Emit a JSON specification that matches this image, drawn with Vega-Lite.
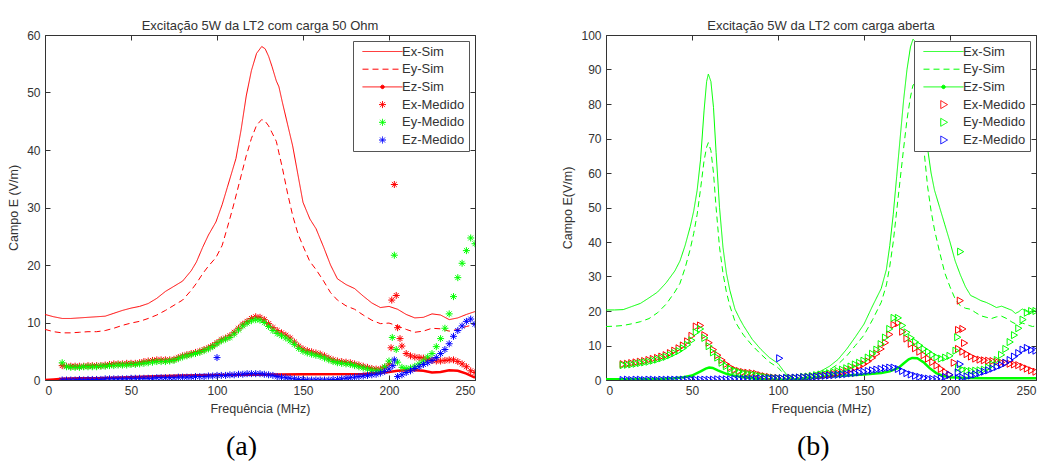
{
  "$schema": "https://vega.github.io/schema/vega-lite/v6.json",
  "padding": {"left": 7, "top": 20, "right": 5, "bottom": 0},
  "background": "white",
  "config": {
    "font": "Liberation Sans",
    "view": {"stroke": null},
    "axis": {
      "labelFont": "Liberation Sans", "labelFontSize": 12, "labelColor": "#333",
      "titleFont": "Liberation Sans", "titleFontSize": 12.5, "titleFontWeight": "normal", "titleColor": "#333",
      "domainColor": "#333", "tickColor": "#333", "tickSize": -5, "labelPadding": 10, "grid": false, "titlePadding": 6
    },
    "title": {"font": "Liberation Sans", "fontSize": 13, "fontWeight": "normal", "color": "#333", "offset": -4}
  },
  "spacing": 85,
  "resolve": {
    "scale": {"x": "independent", "y": "independent", "color": "independent", "strokeDash": "independent"},
    "legend": {"color": "independent"}
  },
  "hconcat": [
    {
      "title": {"text": "(a)", "orient": "bottom", "font": "Liberation Serif", "fontSize": 28, "color": "#000", "offset": 18, "anchor": "middle"},
      "resolve": {"scale": {"color": "independent", "strokeDash": "independent"}, "legend": {"color": "independent"}},
      "vconcat": [
        {
          "title": {"text": "Excitação 5W da LT2 com carga 50 Ohm", "anchor": "middle"},
          "width": 430, "height": 345,
          "resolve": {"axis": {"x": "independent", "y": "independent"}},
          "layer": [
            {
              "data": {"values": [
                {"f":0,"Ex-Sim":11.4,"Ey-Sim":8.8},{"f":5,"Ex-Sim":11.0,"Ey-Sim":8.4},{"f":10,"Ex-Sim":10.7,"Ey-Sim":8.2},{"f":15,"Ex-Sim":10.7,"Ey-Sim":8.2},{"f":20,"Ex-Sim":10.8,"Ey-Sim":8.3},{"f":25,"Ex-Sim":10.9,"Ey-Sim":8.4},{"f":30,"Ex-Sim":11.0,"Ey-Sim":8.4},{"f":35,"Ex-Sim":11.1,"Ey-Sim":8.6},{"f":40,"Ex-Sim":11.6,"Ey-Sim":9.0},{"f":45,"Ex-Sim":12.1,"Ey-Sim":9.5},{"f":50,"Ex-Sim":12.5,"Ey-Sim":9.9},{"f":55,"Ex-Sim":12.8,"Ey-Sim":10.2},{"f":60,"Ex-Sim":13.3,"Ey-Sim":10.7},{"f":65,"Ex-Sim":14.2,"Ey-Sim":11.3},{"f":70,"Ex-Sim":15.4,"Ey-Sim":12.1},{"f":75,"Ex-Sim":16.3,"Ey-Sim":13.0},{"f":80,"Ex-Sim":17.2,"Ey-Sim":13.9},{"f":85,"Ex-Sim":19.0,"Ey-Sim":15.6},{"f":88,"Ex-Sim":20.5,"Ey-Sim":16.8},{"f":91.7,"Ex-Sim":23.1,"Ey-Sim":18.5},{"f":95,"Ex-Sim":25.2,"Ey-Sim":19.8},{"f":99.4,"Ex-Sim":27.5,"Ey-Sim":21.3},{"f":103,"Ex-Sim":30.5,"Ey-Sim":23.4},{"f":106,"Ex-Sim":33.5,"Ey-Sim":26.5},{"f":109,"Ex-Sim":36.5,"Ey-Sim":29.7},{"f":111,"Ex-Sim":38.5,"Ey-Sim":32.0},{"f":114,"Ex-Sim":43.5,"Ey-Sim":35.5},{"f":117,"Ex-Sim":49.4,"Ey-Sim":39.0},{"f":120,"Ex-Sim":53.8,"Ey-Sim":42.0},{"f":123,"Ex-Sim":56.8,"Ey-Sim":44.3},{"f":126,"Ex-Sim":58.0,"Ey-Sim":45.3},{"f":128,"Ex-Sim":57.6,"Ey-Sim":45.0},{"f":130,"Ex-Sim":56.3,"Ey-Sim":44.2},{"f":132,"Ex-Sim":54.5,"Ey-Sim":43.0},{"f":134.5,"Ex-Sim":52.0,"Ey-Sim":41.5},{"f":136,"Ex-Sim":51.0,"Ey-Sim":39.5},{"f":138,"Ex-Sim":48.3,"Ey-Sim":36.9},{"f":141,"Ex-Sim":44.5,"Ey-Sim":32.5},{"f":144,"Ex-Sim":40.7,"Ey-Sim":28.6},{"f":147,"Ex-Sim":35.8,"Ey-Sim":25.5},{"f":150,"Ex-Sim":30.9,"Ey-Sim":23.3},{"f":154,"Ex-Sim":28.0,"Ey-Sim":20.6},{"f":157.6,"Ex-Sim":26.3,"Ey-Sim":19.2},{"f":162,"Ex-Sim":23.1,"Ey-Sim":17.2},{"f":166,"Ex-Sim":20.0,"Ey-Sim":15.2},{"f":170,"Ex-Sim":17.6,"Ey-Sim":13.9},{"f":175,"Ex-Sim":16.6,"Ey-Sim":12.9},{"f":180,"Ex-Sim":15.9,"Ey-Sim":12.3},{"f":185,"Ex-Sim":14.6,"Ey-Sim":11.3},{"f":190,"Ex-Sim":13.4,"Ey-Sim":10.4},{"f":195,"Ex-Sim":12.6,"Ey-Sim":9.8},{"f":200,"Ex-Sim":12.8,"Ey-Sim":9.9},{"f":205,"Ex-Sim":12.3,"Ey-Sim":9.4},{"f":210,"Ex-Sim":11.4,"Ey-Sim":8.8},{"f":215,"Ex-Sim":10.8,"Ey-Sim":8.3},{"f":220,"Ex-Sim":10.9,"Ey-Sim":8.5},{"f":225,"Ex-Sim":11.5,"Ey-Sim":9.0},{"f":230,"Ex-Sim":11.3,"Ey-Sim":8.9},{"f":235,"Ex-Sim":10.5,"Ey-Sim":8.5},{"f":240,"Ex-Sim":10.8,"Ey-Sim":8.8},{"f":245,"Ex-Sim":11.4,"Ey-Sim":9.3},{"f":250,"Ex-Sim":11.9,"Ey-Sim":9.7}
              ]},
              "transform": [{"fold": ["Ex-Sim", "Ey-Sim"], "as": ["s", "v"]}],
              "mark": {"type": "line", "strokeWidth": 1, "clip": true},
              "encoding": {
                "x": {"field": "f", "type": "quantitative", "scale": {"domain": [0, 250], "nice": false}, "axis": {"title": "Frequência (MHz)", "values": [0, 50, 100, 150, 200, 250]}},
                "y": {"field": "v", "type": "quantitative", "scale": {"domain": [0, 60], "nice": false}, "axis": {"title": "Campo E (V/m)", "values": [0, 10, 20, 30, 40, 50, 60]}},
                "color": {
                  "field": "s", "type": "nominal",
                  "scale": {"domain": ["Ex-Sim", "Ey-Sim", "Ez-Sim", "Ex-Medido", "Ey-Medido", "Ez-Medido"], "range": ["#ff0000", "#ff0000", "#ff0000", "#ff0000", "#00ff00", "#0000ff"]},
                  "legend": {
                    "title": null, "orient": "top-right", "offset": 6, "fillColor": "#ffffff", "strokeColor": "#555555", "padding": 4,
                    "labelFont": "Liberation Sans", "labelFontSize": 13, "labelColor": "#333", "symbolSize": 100, "symbolOffset": 19, "labelOffset": 13, "rowPadding": 3.7,
                    "encode": {"symbols": {"update": {
                      "shape": {"signal": "datum.value === 'Ex-Sim' || datum.value === 'Ey-Sim' ? 'M-4,0L4,0' : datum.value === 'Ez-Sim' ? 'M-4,0L4,0M-0.35,0A0.35,0.35 0 1,1 0.35,0A0.35,0.35 0 1,1 -0.35,0' : 'M-0.7,0L0.7,0M0,-0.7L0,0.7M-0.5,-0.5L0.5,0.5M-0.5,0.5L0.5,-0.5'"},
                      "stroke": {"signal": "datum.value === 'Ey-Medido' ? '#00ff00' : datum.value === 'Ez-Medido' ? '#0000ff' : '#ff0000'"},
                      "fill": {"signal": "datum.value === 'Ez-Sim' ? '#ff0000' : 'transparent'"},
                      "strokeDash": {"signal": "datum.value === 'Ey-Sim' ? [6, 4] : [1, 0]"},
                      "strokeWidth": {"value": 1},
                      "size": {"value": 100},
                      "opacity": {"value": 1}
                    }}}
                  }
                },
                "strokeDash": {"field": "s", "type": "nominal", "scale": {"domain": ["Ex-Sim", "Ey-Sim"], "range": [[1, 0], [6, 4]]}, "legend": null}
              }
            },
            {
              "data": {"values": [
                {"f":0,"Ez-Sim":0.0},{"f":5,"Ez-Sim":0.1},{"f":10,"Ez-Sim":0.2},{"f":20,"Ez-Sim":0.3},{"f":30,"Ez-Sim":0.3},{"f":40,"Ez-Sim":0.4},{"f":50,"Ez-Sim":0.5},{"f":60,"Ez-Sim":0.6},{"f":70,"Ez-Sim":0.7},{"f":80,"Ez-Sim":0.8},{"f":100,"Ez-Sim":0.85},{"f":120,"Ez-Sim":0.9},{"f":150,"Ez-Sim":1.0},{"f":185,"Ez-Sim":1.05},{"f":195,"Ez-Sim":1.25},{"f":200,"Ez-Sim":1.4},{"f":205,"Ez-Sim":1.6},{"f":210,"Ez-Sim":1.7},{"f":215,"Ez-Sim":1.7},{"f":220,"Ez-Sim":1.6},{"f":225,"Ez-Sim":1.3},{"f":230,"Ez-Sim":1.4},{"f":235,"Ez-Sim":1.7},{"f":240,"Ez-Sim":1.6},{"f":245,"Ez-Sim":1.1},{"f":250,"Ez-Sim":0.4}
              ]},
              "transform": [{"fold": ["Ez-Sim"], "as": ["s", "v"]}],
              "mark": {"type": "line", "strokeWidth": 2.5, "clip": true},
              "encoding": {
                "x": {"field": "f", "type": "quantitative", "axis": null},
                "y": {"field": "v", "type": "quantitative", "axis": null},
                "color": {"field": "s", "type": "nominal"}
              }
            },
            {
              "data": {"values": [
                {"f":10,"Ex-Medido":2.5,"Ey-Medido":3.0,"Ez-Medido":0.0},{"f":12.5,"Ex-Medido":2.4,"Ey-Medido":2.3,"Ez-Medido":0.0},{"f":15,"Ex-Medido":2.4,"Ey-Medido":2.2,"Ez-Medido":0.0},{"f":17.5,"Ex-Medido":2.4,"Ey-Medido":2.2,"Ez-Medido":0.0},{"f":20,"Ex-Medido":2.4,"Ey-Medido":2.2,"Ez-Medido":0.1},{"f":22.5,"Ex-Medido":2.4,"Ey-Medido":2.3,"Ez-Medido":0.0},{"f":25,"Ex-Medido":2.5,"Ey-Medido":2.3,"Ez-Medido":0.1},{"f":27.5,"Ex-Medido":2.5,"Ey-Medido":2.3,"Ez-Medido":0.1},{"f":30,"Ex-Medido":2.5,"Ey-Medido":2.3,"Ez-Medido":0.1},{"f":32.5,"Ex-Medido":2.5,"Ey-Medido":2.4,"Ez-Medido":0.1},{"f":35,"Ex-Medido":2.6,"Ey-Medido":2.4,"Ez-Medido":0.2},{"f":37.5,"Ex-Medido":2.7,"Ey-Medido":2.5,"Ez-Medido":0.2},{"f":40,"Ex-Medido":2.8,"Ey-Medido":2.5,"Ez-Medido":0.2},{"f":42.5,"Ex-Medido":2.8,"Ey-Medido":2.6,"Ez-Medido":0.2},{"f":45,"Ex-Medido":2.8,"Ey-Medido":2.6,"Ez-Medido":0.2},{"f":47.5,"Ex-Medido":2.9,"Ey-Medido":2.6,"Ez-Medido":0.2},{"f":50,"Ex-Medido":2.9,"Ey-Medido":2.7,"Ez-Medido":0.3},{"f":52.5,"Ex-Medido":2.9,"Ey-Medido":2.7,"Ez-Medido":0.3},{"f":55,"Ex-Medido":3.0,"Ey-Medido":2.8,"Ez-Medido":0.3},{"f":57.5,"Ex-Medido":3.2,"Ey-Medido":2.9,"Ez-Medido":0.3},{"f":60,"Ex-Medido":3.3,"Ey-Medido":3.0,"Ez-Medido":0.3},{"f":62.5,"Ex-Medido":3.4,"Ey-Medido":3.1,"Ez-Medido":0.3},{"f":65,"Ex-Medido":3.5,"Ey-Medido":3.2,"Ez-Medido":0.4},{"f":67.5,"Ex-Medido":3.5,"Ey-Medido":3.2,"Ez-Medido":0.4},{"f":70,"Ex-Medido":3.5,"Ey-Medido":3.2,"Ez-Medido":0.4},{"f":72.5,"Ex-Medido":3.5,"Ey-Medido":3.3,"Ez-Medido":0.4},{"f":75,"Ex-Medido":3.6,"Ey-Medido":3.4,"Ez-Medido":0.4},{"f":77.5,"Ex-Medido":3.9,"Ey-Medido":3.7,"Ez-Medido":0.5},{"f":80,"Ex-Medido":4.2,"Ey-Medido":4.0,"Ez-Medido":0.5},{"f":82.5,"Ex-Medido":4.4,"Ey-Medido":4.2,"Ez-Medido":0.5},{"f":85,"Ex-Medido":4.6,"Ey-Medido":4.4,"Ez-Medido":0.5},{"f":87.5,"Ex-Medido":4.8,"Ey-Medido":4.6,"Ez-Medido":0.6},{"f":90,"Ex-Medido":5.0,"Ey-Medido":4.8,"Ez-Medido":0.6},{"f":92.5,"Ex-Medido":5.3,"Ey-Medido":5.1,"Ez-Medido":0.6},{"f":95,"Ex-Medido":5.6,"Ey-Medido":5.4,"Ez-Medido":0.7},{"f":97.5,"Ex-Medido":6.0,"Ey-Medido":5.8,"Ez-Medido":0.7},{"f":100,"Ex-Medido":6.5,"Ey-Medido":6.3,"Ez-Medido":0.8},{"f":102.5,"Ex-Medido":7.0,"Ey-Medido":6.8,"Ez-Medido":0.8},{"f":105,"Ex-Medido":7.3,"Ey-Medido":7.1,"Ez-Medido":0.8},{"f":107.5,"Ex-Medido":7.7,"Ey-Medido":7.4,"Ez-Medido":0.9},{"f":110,"Ex-Medido":8.3,"Ey-Medido":8.0,"Ez-Medido":0.9},{"f":112.5,"Ex-Medido":9.0,"Ey-Medido":8.7,"Ez-Medido":1.0},{"f":115,"Ex-Medido":9.7,"Ey-Medido":9.4,"Ez-Medido":1.0},{"f":117.5,"Ex-Medido":10.2,"Ey-Medido":9.9,"Ez-Medido":1.1},{"f":120,"Ex-Medido":10.7,"Ey-Medido":10.3,"Ez-Medido":1.1},{"f":122.5,"Ex-Medido":11.0,"Ey-Medido":10.5,"Ez-Medido":1.1},{"f":125,"Ex-Medido":10.9,"Ey-Medido":10.4,"Ez-Medido":1.1},{"f":127.5,"Ex-Medido":10.5,"Ey-Medido":10.0,"Ez-Medido":1.0},{"f":130,"Ex-Medido":9.8,"Ey-Medido":9.3,"Ez-Medido":0.9},{"f":132.5,"Ex-Medido":9.1,"Ey-Medido":8.6,"Ez-Medido":0.8},{"f":135,"Ex-Medido":8.6,"Ey-Medido":8.1,"Ez-Medido":0.6},{"f":137.5,"Ex-Medido":8.2,"Ey-Medido":7.7,"Ez-Medido":0.5},{"f":140,"Ex-Medido":7.8,"Ey-Medido":7.3,"Ez-Medido":0.4},{"f":142.5,"Ex-Medido":7.3,"Ey-Medido":6.8,"Ez-Medido":0.3},{"f":145,"Ex-Medido":6.6,"Ey-Medido":6.2,"Ez-Medido":0.2},{"f":147.5,"Ex-Medido":5.9,"Ey-Medido":5.5,"Ez-Medido":0.1},{"f":150,"Ex-Medido":5.4,"Ey-Medido":5.0,"Ez-Medido":0.1},{"f":152.5,"Ex-Medido":5.1,"Ey-Medido":4.7,"Ez-Medido":0.0},{"f":155,"Ex-Medido":4.9,"Ey-Medido":4.5,"Ez-Medido":0.0},{"f":157.5,"Ex-Medido":4.7,"Ey-Medido":4.3,"Ez-Medido":0.0},{"f":160,"Ex-Medido":4.5,"Ey-Medido":4.1,"Ez-Medido":0.0},{"f":162.5,"Ex-Medido":4.2,"Ey-Medido":3.8,"Ez-Medido":0.0},{"f":165,"Ex-Medido":3.8,"Ey-Medido":3.5,"Ez-Medido":0.0},{"f":167.5,"Ex-Medido":3.5,"Ey-Medido":3.2,"Ez-Medido":0.1},{"f":170,"Ex-Medido":3.3,"Ey-Medido":3.0,"Ez-Medido":0.1},{"f":172.5,"Ex-Medido":3.2,"Ey-Medido":2.9,"Ez-Medido":0.2},{"f":175,"Ex-Medido":3.1,"Ey-Medido":2.8,"Ez-Medido":0.3},{"f":177.5,"Ex-Medido":3.0,"Ey-Medido":2.7,"Ez-Medido":0.4},{"f":180,"Ex-Medido":2.8,"Ey-Medido":2.5,"Ez-Medido":0.5},{"f":182.5,"Ex-Medido":2.6,"Ey-Medido":2.3,"Ez-Medido":0.6},{"f":185,"Ex-Medido":2.4,"Ey-Medido":2.1,"Ez-Medido":0.7},{"f":187.5,"Ex-Medido":2.2,"Ey-Medido":1.9,"Ez-Medido":0.8},{"f":190,"Ex-Medido":2.0,"Ey-Medido":1.7,"Ez-Medido":0.9},{"f":192.5,"Ex-Medido":1.9,"Ey-Medido":1.6,"Ez-Medido":1.0},{"f":195,"Ex-Medido":1.9,"Ey-Medido":1.6,"Ez-Medido":1.2},{"f":197.5,"Ex-Medido":2.2,"Ey-Medido":2.3,"Ez-Medido":1.5},{"f":200,"Ex-Medido":2.8,"Ey-Medido":3.3,"Ez-Medido":1.9},{"f":205,"Ex-Medido":9.1,"Ey-Medido":3.1,"Ez-Medido":0.6},{"f":207.5,"Ex-Medido":5.9,"Ey-Medido":2.2,"Ez-Medido":0.9},{"f":210,"Ex-Medido":4.6,"Ey-Medido":2.0,"Ez-Medido":1.3},{"f":212.5,"Ex-Medido":4.2,"Ey-Medido":2.1,"Ez-Medido":1.6},{"f":215,"Ex-Medido":4.0,"Ey-Medido":2.4,"Ez-Medido":2.0},{"f":217.5,"Ex-Medido":3.9,"Ey-Medido":2.8,"Ez-Medido":2.3},{"f":220,"Ex-Medido":3.8,"Ey-Medido":3.3,"Ez-Medido":2.7},{"f":222.5,"Ex-Medido":3.6,"Ey-Medido":4.0,"Ez-Medido":3.0},{"f":225,"Ex-Medido":3.4,"Ey-Medido":4.6,"Ez-Medido":3.4},{"f":227.5,"Ex-Medido":3.3,"Ey-Medido":5.8,"Ez-Medido":3.9},{"f":230,"Ex-Medido":3.3,"Ey-Medido":7.2,"Ez-Medido":4.6},{"f":232.5,"Ex-Medido":3.4,"Ey-Medido":9.0,"Ez-Medido":5.3},{"f":235,"Ex-Medido":3.5,"Ey-Medido":11.5,"Ez-Medido":6.3},{"f":237.5,"Ex-Medido":3.5,"Ey-Medido":14.5,"Ez-Medido":7.6},{"f":240,"Ex-Medido":3.2,"Ey-Medido":17.8,"Ez-Medido":8.6},{"f":242.5,"Ex-Medido":2.8,"Ey-Medido":20.3,"Ez-Medido":9.4},{"f":245,"Ex-Medido":2.3,"Ey-Medido":22.5,"Ez-Medido":10.2},{"f":247.5,"Ex-Medido":1.6,"Ey-Medido":24.7,"Ez-Medido":10.6},{"f":250,"Ex-Medido":1.3,"Ey-Medido":23.7,"Ez-Medido":9.7},
                {"f":100,"Ez-Medido":3.9},{"f":201.2,"Ex-Medido":5.6},{"f":201.6,"Ex-Medido":13.9},{"f":203.1,"Ex-Medido":34.0},{"f":204.2,"Ex-Medido":14.7},{"f":206.4,"Ex-Medido":7.2},{"f":201.9,"Ey-Medido":7.4},{"f":203.1,"Ey-Medido":21.7},{"f":204.2,"Ey-Medido":5.3},{"f":202.2,"Ez-Medido":2.5},{"f":203.1,"Ez-Medido":3.5}
              ]},
              "transform": [{"fold": ["Ex-Medido", "Ey-Medido", "Ez-Medido"], "as": ["s", "v"]}, {"filter": "isValid(datum.v)"}],
              "mark": {"type": "point", "shape": "M-1,0L1,0M0,-1L0,1M-0.7,-0.7L0.7,0.7M-0.7,0.7L0.7,-0.7", "size": 49, "strokeWidth": 1, "filled": false, "opacity": 1, "clip": true},
              "encoding": {
                "x": {"field": "f", "type": "quantitative", "axis": {"orient": "top", "labels": false, "title": null, "values": [0, 50, 100, 150, 200, 250]}},
                "y": {"field": "v", "type": "quantitative", "axis": {"orient": "right", "labels": false, "title": null, "values": [0, 10, 20, 30, 40, 50, 60]}},
                "color": {"field": "s", "type": "nominal"},
                "order": {"field": "s", "type": "nominal", "sort": "ascending"}
              }
            }
          ]
        }
      ]
    },
    {
      "title": {"text": "(b)", "orient": "bottom", "font": "Liberation Serif", "fontSize": 28, "color": "#000", "offset": 18, "anchor": "middle", "dx": 14},
      "resolve": {"scale": {"color": "independent", "strokeDash": "independent"}, "legend": {"color": "independent"}},
      "vconcat": [
        {
          "title": {"text": "Excitação 5W da LT2 com carga aberta", "anchor": "middle"},
          "width": 430, "height": 345,
          "resolve": {"axis": {"x": "independent", "y": "independent"}},
          "layer": [
            {
              "data": {"values": [
                {"f":0,"Ex-Sim":20.3,"Ey-Sim":15.5},{"f":5,"Ex-Sim":20.3,"Ey-Sim":15.6},{"f":10,"Ex-Sim":20.4,"Ey-Sim":15.8},{"f":15,"Ex-Sim":21.3,"Ey-Sim":16.3},{"f":20,"Ex-Sim":22.2,"Ey-Sim":16.9},{"f":25,"Ex-Sim":23.8,"Ey-Sim":17.8},{"f":30,"Ex-Sim":25.5,"Ey-Sim":19.5},{"f":35,"Ex-Sim":28.2,"Ey-Sim":22.0},{"f":40,"Ex-Sim":31.6,"Ey-Sim":25.5},{"f":43,"Ex-Sim":34.5,"Ey-Sim":28.0},{"f":46,"Ex-Sim":39.0,"Ey-Sim":32.5},{"f":49,"Ex-Sim":44.5,"Ey-Sim":38.0},{"f":51,"Ex-Sim":49.0,"Ey-Sim":42.5},{"f":53,"Ex-Sim":55.0,"Ey-Sim":48.0},{"f":55,"Ex-Sim":64.0,"Ey-Sim":55.5},{"f":57,"Ex-Sim":78.0,"Ey-Sim":63.5},{"f":58.5,"Ex-Sim":86.5,"Ey-Sim":67.5},{"f":59.5,"Ex-Sim":88.7,"Ey-Sim":68.8},{"f":61,"Ex-Sim":86.5,"Ey-Sim":66.5},{"f":62.5,"Ex-Sim":79.0,"Ey-Sim":60.0},{"f":64,"Ex-Sim":66.0,"Ey-Sim":50.0},{"f":66,"Ex-Sim":50.0,"Ey-Sim":38.5},{"f":68,"Ex-Sim":38.5,"Ey-Sim":31.0},{"f":70,"Ex-Sim":31.0,"Ey-Sim":25.5},{"f":72,"Ex-Sim":26.0,"Ey-Sim":21.5},{"f":75,"Ex-Sim":20.5,"Ey-Sim":17.0},{"f":78,"Ex-Sim":17.5,"Ey-Sim":14.5},{"f":80,"Ex-Sim":15.7,"Ey-Sim":13.0},{"f":85,"Ex-Sim":11.8,"Ey-Sim":10.0},{"f":90,"Ex-Sim":8.9,"Ey-Sim":7.5},{"f":95,"Ex-Sim":6.5,"Ey-Sim":5.2},{"f":100,"Ex-Sim":4.8,"Ey-Sim":3.6},{"f":103,"Ex-Sim":2.8,"Ey-Sim":2.0},{"f":106,"Ex-Sim":1.0,"Ey-Sim":0.8},{"f":109,"Ex-Sim":0.2,"Ey-Sim":0.3},{"f":112,"Ex-Sim":0.4,"Ey-Sim":0.3},{"f":115,"Ex-Sim":0.8,"Ey-Sim":0.5},{"f":120,"Ex-Sim":1.6,"Ey-Sim":1.2},{"f":125,"Ex-Sim":2.6,"Ey-Sim":2.0},{"f":130,"Ex-Sim":4.0,"Ey-Sim":3.0},{"f":135,"Ex-Sim":6.0,"Ey-Sim":4.6},{"f":140,"Ex-Sim":9.0,"Ey-Sim":7.0},{"f":145,"Ex-Sim":12.5,"Ey-Sim":10.0},{"f":150,"Ex-Sim":16.2,"Ey-Sim":13.0},{"f":155,"Ex-Sim":21.5,"Ey-Sim":17.5},{"f":160,"Ex-Sim":26.5,"Ey-Sim":22.5},{"f":163,"Ex-Sim":32.0,"Ey-Sim":27.5},{"f":165,"Ex-Sim":39.0,"Ey-Sim":33.0},{"f":167,"Ex-Sim":48.0,"Ey-Sim":40.0},{"f":169,"Ex-Sim":59.0,"Ey-Sim":49.0},{"f":171,"Ex-Sim":70.0,"Ey-Sim":58.0},{"f":173,"Ex-Sim":81.0,"Ey-Sim":67.0},{"f":175,"Ex-Sim":90.0,"Ey-Sim":75.5},{"f":177,"Ex-Sim":96.5,"Ey-Sim":82.0},{"f":178.5,"Ex-Sim":98.8,"Ey-Sim":85.5},{"f":180,"Ex-Sim":98.0,"Ey-Sim":86.0},{"f":181.5,"Ex-Sim":94.0,"Ey-Sim":83.0},{"f":183,"Ex-Sim":87.0,"Ey-Sim":76.0},{"f":185,"Ex-Sim":77.0,"Ey-Sim":66.0},{"f":187,"Ex-Sim":67.0,"Ey-Sim":56.0},{"f":189,"Ex-Sim":60.0,"Ey-Sim":49.0},{"f":191,"Ex-Sim":55.0,"Ey-Sim":43.5},{"f":194,"Ex-Sim":50.0,"Ey-Sim":37.0},{"f":197,"Ex-Sim":45.0,"Ey-Sim":31.0},{"f":200,"Ex-Sim":40.0,"Ey-Sim":27.0},{"f":203,"Ex-Sim":34.5,"Ey-Sim":23.5},{"f":206,"Ex-Sim":30.5,"Ey-Sim":21.5},{"f":209,"Ex-Sim":27.0,"Ey-Sim":20.8},{"f":212,"Ex-Sim":24.5,"Ey-Sim":20.5},{"f":215,"Ex-Sim":23.8,"Ey-Sim":19.5},{"f":218,"Ex-Sim":23.0,"Ey-Sim":18.6},{"f":221,"Ex-Sim":22.5,"Ey-Sim":18.2},{"f":224,"Ex-Sim":21.8,"Ey-Sim":17.8},{"f":227,"Ex-Sim":21.0,"Ey-Sim":18.3},{"f":230,"Ex-Sim":21.4,"Ey-Sim":18.5},{"f":233,"Ex-Sim":20.8,"Ey-Sim":17.8},{"f":236,"Ex-Sim":20.2,"Ey-Sim":16.8},{"f":238,"Ex-Sim":19.3,"Ey-Sim":16.3},{"f":240,"Ex-Sim":19.8,"Ey-Sim":16.0},{"f":242,"Ex-Sim":20.6,"Ey-Sim":16.5},{"f":244,"Ex-Sim":20.0,"Ey-Sim":16.2},{"f":246,"Ex-Sim":19.6,"Ey-Sim":15.8},{"f":248,"Ex-Sim":20.2,"Ey-Sim":15.5},{"f":250,"Ex-Sim":20.0,"Ey-Sim":15.7}
              ]},
              "transform": [{"fold": ["Ex-Sim", "Ey-Sim"], "as": ["s", "v"]}],
              "mark": {"type": "line", "strokeWidth": 1, "clip": true},
              "encoding": {
                "x": {"field": "f", "type": "quantitative", "scale": {"domain": [0, 250], "nice": false}, "axis": {"title": "Frequencia (MHz)", "values": [0, 50, 100, 150, 200, 250]}},
                "y": {"field": "v", "type": "quantitative", "scale": {"domain": [0, 100], "nice": false}, "axis": {"title": "Campo E(V/m)", "values": [0, 10, 20, 30, 40, 50, 60, 70, 80, 90, 100]}},
                "color": {
                  "field": "s", "type": "nominal",
                  "scale": {"domain": ["Ex-Sim", "Ey-Sim", "Ez-Sim", "Ex-Medido", "Ey-Medido", "Ez-Medido"], "range": ["#00ff00", "#00ff00", "#00ff00", "#ff0000", "#00ff00", "#0000ff"]},
                  "legend": {
                    "title": null, "orient": "top-right", "offset": 6, "fillColor": "#ffffff", "strokeColor": "#555555", "padding": 4,
                    "labelFont": "Liberation Sans", "labelFontSize": 13, "labelColor": "#333", "symbolSize": 100, "symbolOffset": 19, "labelOffset": 13, "rowPadding": 3.7,
                    "encode": {"symbols": {"update": {
                      "shape": {"signal": "datum.value === 'Ex-Sim' || datum.value === 'Ey-Sim' ? 'M-4,0L4,0' : datum.value === 'Ez-Sim' ? 'M-4,0L4,0M-0.35,0A0.35,0.35 0 1,1 0.35,0A0.35,0.35 0 1,1 -0.35,0' : 'M-0.55,-0.8L0.8,0L-0.55,0.8Z'"},
                      "stroke": {"signal": "datum.value === 'Ex-Medido' ? '#ff0000' : datum.value === 'Ez-Medido' ? '#0000ff' : '#00ff00'"},
                      "fill": {"signal": "datum.value === 'Ez-Sim' ? '#00ff00' : 'transparent'"},
                      "strokeDash": {"signal": "datum.value === 'Ey-Sim' ? [6, 4] : [1, 0]"},
                      "strokeWidth": {"value": 1},
                      "size": {"value": 100},
                      "opacity": {"value": 1}
                    }}}
                  }
                },
                "strokeDash": {"field": "s", "type": "nominal", "scale": {"domain": ["Ex-Sim", "Ey-Sim"], "range": [[1, 0], [6, 4]]}, "legend": null}
              }
            },
            {
              "data": {"values": [
                {"f":0,"Ez-Sim":0.2},{"f":10,"Ez-Sim":0.2},{"f":20,"Ez-Sim":0.3},{"f":30,"Ez-Sim":0.3},{"f":40,"Ez-Sim":0.5},{"f":45,"Ez-Sim":0.8},{"f":50,"Ez-Sim":1.3},{"f":55,"Ez-Sim":2.5},{"f":58,"Ez-Sim":3.3},{"f":60,"Ez-Sim":3.6},{"f":62,"Ez-Sim":3.5},{"f":65,"Ez-Sim":2.8},{"f":70,"Ez-Sim":1.8},{"f":75,"Ez-Sim":1.2},{"f":80,"Ez-Sim":0.8},{"f":85,"Ez-Sim":0.5},{"f":90,"Ez-Sim":0.2},{"f":100,"Ez-Sim":0.1},{"f":110,"Ez-Sim":0.2},{"f":120,"Ez-Sim":0.6},{"f":130,"Ez-Sim":1.0},{"f":140,"Ez-Sim":1.3},{"f":150,"Ez-Sim":1.6},{"f":160,"Ez-Sim":2.0},{"f":165,"Ez-Sim":2.5},{"f":170,"Ez-Sim":3.5},{"f":173,"Ez-Sim":4.8},{"f":176,"Ez-Sim":6.0},{"f":178,"Ez-Sim":6.4},{"f":181,"Ez-Sim":6.3},{"f":185,"Ez-Sim":5.0},{"f":188,"Ez-Sim":3.5},{"f":192,"Ez-Sim":2.0},{"f":196,"Ez-Sim":1.2},{"f":200,"Ez-Sim":0.8},{"f":210,"Ez-Sim":0.6},{"f":220,"Ez-Sim":0.5},{"f":230,"Ez-Sim":0.5},{"f":240,"Ez-Sim":0.5},{"f":250,"Ez-Sim":0.5}
              ]},
              "transform": [{"fold": ["Ez-Sim"], "as": ["s", "v"]}],
              "mark": {"type": "line", "strokeWidth": 2.5, "clip": true},
              "encoding": {
                "x": {"field": "f", "type": "quantitative", "axis": null},
                "y": {"field": "v", "type": "quantitative", "axis": null},
                "color": {"field": "s", "type": "nominal"}
              }
            },
            {
              "data": {"values": [
                {"f":10,"Ex-Medido":4.6,"Ey-Medido":4.3,"Ez-Medido":0.0},{"f":12.5,"Ex-Medido":4.7,"Ey-Medido":4.4,"Ez-Medido":0.1},{"f":15,"Ex-Medido":4.9,"Ey-Medido":4.5,"Ez-Medido":0.0},{"f":17.5,"Ex-Medido":5.1,"Ey-Medido":4.7,"Ez-Medido":0.1},{"f":20,"Ex-Medido":5.3,"Ey-Medido":4.9,"Ez-Medido":0.1},{"f":22.5,"Ex-Medido":5.5,"Ey-Medido":5.1,"Ez-Medido":0.0},{"f":25,"Ex-Medido":5.8,"Ey-Medido":5.3,"Ez-Medido":0.1},{"f":27.5,"Ex-Medido":6.1,"Ey-Medido":5.6,"Ez-Medido":0.1},{"f":30,"Ex-Medido":6.4,"Ey-Medido":5.9,"Ez-Medido":0.0},{"f":32.5,"Ex-Medido":6.8,"Ey-Medido":6.3,"Ez-Medido":0.1},{"f":35,"Ex-Medido":7.2,"Ey-Medido":6.7,"Ez-Medido":0.1},{"f":37.5,"Ex-Medido":7.8,"Ey-Medido":7.2,"Ez-Medido":0.1},{"f":40,"Ex-Medido":8.5,"Ey-Medido":7.8,"Ez-Medido":0.1},{"f":42.5,"Ex-Medido":9.2,"Ey-Medido":8.4,"Ez-Medido":0.1},{"f":45,"Ex-Medido":10.0,"Ey-Medido":9.2,"Ez-Medido":0.1},{"f":47.5,"Ex-Medido":11.2,"Ey-Medido":10.2,"Ez-Medido":0.1},{"f":50,"Ex-Medido":12.8,"Ey-Medido":11.5,"Ez-Medido":0.1},{"f":52.5,"Ex-Medido":15.5,"Ey-Medido":13.8,"Ez-Medido":0.1},{"f":55,"Ex-Medido":15.8,"Ey-Medido":14.8,"Ez-Medido":0.1},{"f":57.5,"Ex-Medido":13.0,"Ey-Medido":12.2,"Ez-Medido":0.1},{"f":60,"Ex-Medido":10.8,"Ey-Medido":9.8,"Ez-Medido":0.1},{"f":62.5,"Ex-Medido":8.8,"Ey-Medido":8.0,"Ez-Medido":0.1},{"f":65,"Ex-Medido":7.2,"Ey-Medido":6.5,"Ez-Medido":0.2},{"f":67.5,"Ex-Medido":5.8,"Ey-Medido":5.0,"Ez-Medido":0.2},{"f":70,"Ex-Medido":4.6,"Ey-Medido":4.0,"Ez-Medido":0.2},{"f":72.5,"Ex-Medido":3.7,"Ey-Medido":3.2,"Ez-Medido":0.2},{"f":75,"Ex-Medido":3.0,"Ey-Medido":2.7,"Ez-Medido":0.3},{"f":77.5,"Ex-Medido":2.6,"Ey-Medido":2.3,"Ez-Medido":0.3},{"f":80,"Ex-Medido":2.3,"Ey-Medido":2.0,"Ez-Medido":0.3},{"f":82.5,"Ex-Medido":2.1,"Ey-Medido":1.8,"Ez-Medido":0.3},{"f":85,"Ex-Medido":2.0,"Ey-Medido":1.6,"Ez-Medido":0.3},{"f":87.5,"Ex-Medido":1.8,"Ey-Medido":1.4,"Ez-Medido":0.4},{"f":90,"Ex-Medido":1.4,"Ey-Medido":1.1,"Ez-Medido":0.4},{"f":92.5,"Ex-Medido":1.1,"Ey-Medido":0.9,"Ez-Medido":0.4},{"f":95,"Ex-Medido":0.9,"Ey-Medido":0.7,"Ez-Medido":0.5},{"f":97.5,"Ex-Medido":0.7,"Ey-Medido":0.6,"Ez-Medido":0.5},{"f":100,"Ex-Medido":0.6,"Ey-Medido":0.5,"Ez-Medido":0.5},{"f":102.5,"Ex-Medido":0.5,"Ey-Medido":0.5,"Ez-Medido":0.5},{"f":105,"Ex-Medido":0.5,"Ey-Medido":0.5,"Ez-Medido":0.6},{"f":107.5,"Ex-Medido":0.6,"Ey-Medido":0.5,"Ez-Medido":0.6},{"f":110,"Ex-Medido":0.6,"Ey-Medido":0.6,"Ez-Medido":0.7},{"f":112.5,"Ex-Medido":0.7,"Ey-Medido":0.7,"Ez-Medido":0.7},{"f":115,"Ex-Medido":0.8,"Ey-Medido":0.9,"Ez-Medido":0.8},{"f":117.5,"Ex-Medido":0.9,"Ey-Medido":1.0,"Ez-Medido":0.8},{"f":120,"Ex-Medido":1.0,"Ey-Medido":1.2,"Ez-Medido":0.9},{"f":122.5,"Ex-Medido":1.1,"Ey-Medido":1.4,"Ez-Medido":1.0},{"f":125,"Ex-Medido":1.3,"Ey-Medido":1.6,"Ez-Medido":1.1},{"f":127.5,"Ex-Medido":1.4,"Ey-Medido":1.8,"Ez-Medido":1.2},{"f":130,"Ex-Medido":1.6,"Ey-Medido":2.0,"Ez-Medido":1.3},{"f":132.5,"Ex-Medido":1.8,"Ey-Medido":2.3,"Ez-Medido":1.4},{"f":135,"Ex-Medido":2.0,"Ey-Medido":2.6,"Ez-Medido":1.5},{"f":137.5,"Ex-Medido":2.3,"Ey-Medido":3.0,"Ez-Medido":1.6},{"f":140,"Ex-Medido":2.6,"Ey-Medido":3.4,"Ez-Medido":1.7},{"f":142.5,"Ex-Medido":3.0,"Ey-Medido":3.9,"Ez-Medido":1.9},{"f":145,"Ex-Medido":3.5,"Ey-Medido":4.5,"Ez-Medido":2.0},{"f":147.5,"Ex-Medido":4.0,"Ey-Medido":5.0,"Ez-Medido":2.2},{"f":150,"Ex-Medido":4.6,"Ey-Medido":5.6,"Ez-Medido":2.4},{"f":152.5,"Ex-Medido":5.4,"Ey-Medido":6.5,"Ez-Medido":2.6},{"f":155,"Ex-Medido":6.4,"Ey-Medido":7.6,"Ez-Medido":2.8},{"f":157.5,"Ex-Medido":7.6,"Ey-Medido":8.8,"Ez-Medido":3.0},{"f":160,"Ex-Medido":9.0,"Ey-Medido":10.4,"Ez-Medido":3.2},{"f":162.5,"Ex-Medido":10.8,"Ey-Medido":12.3,"Ez-Medido":3.4},{"f":165,"Ex-Medido":13.2,"Ey-Medido":14.8,"Ez-Medido":3.6},{"f":167.5,"Ex-Medido":16.0,"Ey-Medido":18.0,"Ez-Medido":3.6},{"f":170,"Ex-Medido":16.5,"Ey-Medido":18.0,"Ez-Medido":3.2},{"f":172.5,"Ex-Medido":14.0,"Ey-Medido":15.8,"Ez-Medido":2.6},{"f":175,"Ex-Medido":12.0,"Ey-Medido":13.8,"Ez-Medido":2.0},{"f":177.5,"Ex-Medido":10.5,"Ey-Medido":12.2,"Ez-Medido":1.6},{"f":180,"Ex-Medido":9.2,"Ey-Medido":11.0,"Ez-Medido":1.2},{"f":182.5,"Ex-Medido":8.2,"Ey-Medido":10.0,"Ez-Medido":0.9},{"f":185,"Ex-Medido":7.2,"Ey-Medido":9.0,"Ez-Medido":0.6},{"f":187.5,"Ex-Medido":6.2,"Ey-Medido":8.2,"Ez-Medido":0.4},{"f":190,"Ex-Medido":5.2,"Ey-Medido":7.3,"Ez-Medido":0.3},{"f":192.5,"Ex-Medido":4.2,"Ey-Medido":6.6,"Ez-Medido":0.3},{"f":195,"Ex-Medido":3.2,"Ey-Medido":6.2,"Ez-Medido":0.5},{"f":197.5,"Ex-Medido":2.3,"Ey-Medido":6.5,"Ez-Medido":0.9},{"f":200,"Ex-Medido":1.5,"Ey-Medido":7.0,"Ez-Medido":1.5},{"f":205,"Ex-Medido":9.0,"Ey-Medido":3.5,"Ez-Medido":0.5},{"f":207.5,"Ex-Medido":8.2,"Ey-Medido":3.0,"Ez-Medido":0.7},{"f":210,"Ex-Medido":7.5,"Ey-Medido":2.7,"Ez-Medido":1.0},{"f":212.5,"Ex-Medido":6.8,"Ey-Medido":2.6,"Ez-Medido":1.3},{"f":215,"Ex-Medido":6.2,"Ey-Medido":2.7,"Ez-Medido":1.6},{"f":217.5,"Ex-Medido":5.9,"Ey-Medido":2.8,"Ez-Medido":2.0},{"f":220,"Ex-Medido":5.7,"Ey-Medido":3.0,"Ez-Medido":2.4},{"f":222.5,"Ex-Medido":5.6,"Ey-Medido":3.6,"Ez-Medido":2.8},{"f":225,"Ex-Medido":5.5,"Ey-Medido":4.5,"Ez-Medido":3.3},{"f":227.5,"Ex-Medido":5.3,"Ey-Medido":5.8,"Ez-Medido":3.8},{"f":230,"Ex-Medido":5.1,"Ey-Medido":7.3,"Ez-Medido":4.3},{"f":232.5,"Ex-Medido":4.9,"Ey-Medido":9.0,"Ez-Medido":5.0},{"f":235,"Ex-Medido":4.7,"Ey-Medido":11.0,"Ez-Medido":5.8},{"f":237.5,"Ex-Medido":4.5,"Ey-Medido":13.0,"Ez-Medido":6.8},{"f":240,"Ex-Medido":4.3,"Ey-Medido":15.0,"Ez-Medido":7.8},{"f":242.5,"Ex-Medido":3.8,"Ey-Medido":17.5,"Ez-Medido":8.8},{"f":245,"Ex-Medido":3.3,"Ey-Medido":19.5,"Ez-Medido":9.3},{"f":247.5,"Ex-Medido":2.8,"Ey-Medido":20.0,"Ez-Medido":8.7},{"f":250,"Ex-Medido":2.4,"Ey-Medido":20.0,"Ez-Medido":8.5},
                {"f":101,"Ez-Medido":6.3},{"f":202.5,"Ex-Medido":5.0},{"f":205,"Ex-Medido":14.5},{"f":206,"Ex-Medido":23.0},{"f":207.5,"Ex-Medido":14.8},{"f":208.5,"Ex-Medido":10.7},{"f":203.5,"Ey-Medido":8.5},{"f":204.5,"Ey-Medido":12.4},{"f":206.2,"Ey-Medido":37.2},{"f":204.8,"Ez-Medido":2.2},{"f":206,"Ez-Medido":4.6}
              ]},
              "transform": [{"fold": ["Ex-Medido", "Ey-Medido", "Ez-Medido"], "as": ["s", "v"]}, {"filter": "isValid(datum.v)"}],
              "mark": {"type": "point", "shape": "triangle-right", "size": 50, "strokeWidth": 1, "filled": false, "opacity": 1, "clip": true},
              "encoding": {
                "x": {"field": "f", "type": "quantitative", "axis": {"orient": "top", "labels": false, "title": null, "values": [0, 50, 100, 150, 200, 250]}},
                "y": {"field": "v", "type": "quantitative", "axis": {"orient": "right", "labels": false, "title": null, "values": [0, 10, 20, 30, 40, 50, 60, 70, 80, 90, 100]}},
                "color": {"field": "s", "type": "nominal"},
                "order": {"field": "s", "type": "nominal", "sort": "ascending"}
              }
            }
          ]
        }
      ]
    }
  ]
}
